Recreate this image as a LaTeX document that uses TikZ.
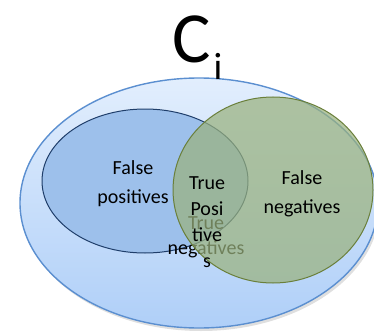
\documentclass[tikz,border=0pt]{standalone}
\usepackage{fontspec}
\setmainfont{Carlito}
\usetikzlibrary{shapes.geometric, shadows}
\definecolor{setblue}{HTML}{9DC0EB}
\definecolor{setnavy}{HTML}{1F3E6A}
\definecolor{setgreen}{HTML}{9AB27E}
\definecolor{setolive}{HTML}{6A7F3A}
\definecolor{outerline}{HTML}{5B8FD0}
\definecolor{outertop}{HTML}{E2EEFD}
\definecolor{outerbottom}{HTML}{AFCFF8}

\begin{document}
\begin{tikzpicture}[x=1pt, y=-1pt,
      region/.style={ellipse, inner sep=0pt},
      lbl/.style={align=center, font=\fontsize{20}{29}\selectfont},
    ]
    \useasboundingbox (0,0) rectangle (374,334);

    % ── outer class C_i ──
    \node[region, minimum width=358pt, minimum height=250pt,
          draw=outerline, line width=1.4pt,
          top color=outertop, bottom color=outerbottom,
          drop shadow={opacity=0.25, shadow xshift=2pt, shadow yshift=-3pt}]
          (class) at (199,203) {};
    \node[font=\fontsize{72}{72}\selectfont, anchor=base]
          (title) at (192,63) {C};
    \node[font=\fontsize{38}{38}\selectfont, anchor=base]
          (sub) at (218,80) {i};

    % ── predicted set ──
    \node[region, minimum width=206pt, minimum height=144pt,
          draw=setnavy, line width=1pt, fill=setblue]
          (pred) at (145,181) {};
    \node[lbl] (tn) at (206,237) {True\\[-4pt]negatives};

    % ── actual set, see-through ──
    \node[region, minimum width=200pt, minimum height=186pt,
          draw=setolive, line width=1pt, fill=setgreen, fill opacity=0.72]
          (actual) at (273,190) {};

    % ── labels ──
    \node[lbl] (fp) at (133,184) {False\\positives};
    \node[lbl] (fn) at (302,194) {False\\negatives};
    \node[lbl, font=\fontsize{20}{26}\selectfont] (tp) at (207,222)
          {True\\Posi\\tive\\s};
  \end{tikzpicture}
\end{document}
